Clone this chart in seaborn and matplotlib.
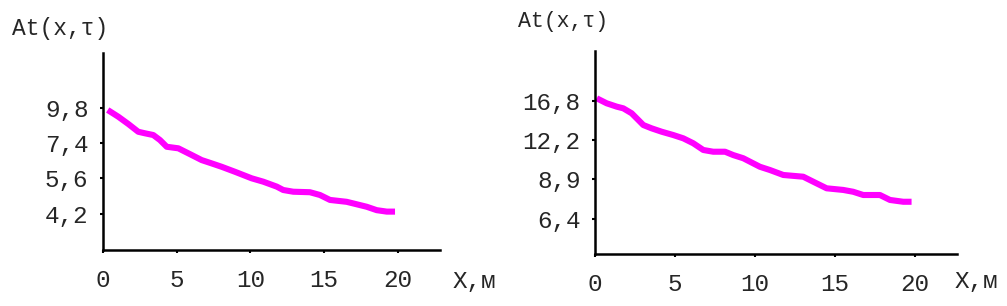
import matplotlib
matplotlib.use("Agg")
import matplotlib.pyplot as plt
import seaborn as sns
from matplotlib.ticker import NullLocator

# ---- data ----
x_left = [0.32, 1.04, 1.72, 2.39, 2.85, 3.41, 3.86, 4.32, 5.11, 6.01, 6.69, 7.37, 8.05, 8.95,
          10.08, 10.87, 11.78, 12.22, 12.90, 14.03, 14.71, 15.39, 16.52, 16.97, 17.88, 18.56,
          19.24, 19.80]
y_left = [9.66, 9.15, 8.63, 8.11, 8.01, 7.90, 7.59, 7.19, 7.10, 6.73, 6.46, 6.29, 6.12, 5.88,
          5.58, 5.43, 5.22, 5.08, 5.01, 4.99, 4.88, 4.69, 4.62, 4.56, 4.44, 4.32, 4.27, 4.27]

x_right = [0.11, 0.73, 1.36, 1.77, 2.29, 2.71, 3.02, 3.54, 4.17, 4.89, 5.52, 6.14, 6.77, 7.39,
           8.13, 8.64, 9.27, 9.89, 10.31, 10.94, 11.77, 13.02, 13.64, 14.48, 15.52, 16.14,
           16.77, 17.81, 18.44, 19.27, 19.79]
y_right = [17.21, 16.52, 16.07, 15.85, 15.22, 14.40, 13.82, 13.45, 13.08, 12.73, 12.39, 11.90,
           11.26, 11.10, 11.10, 10.80, 10.52, 10.09, 9.81, 9.55, 9.17, 9.04, 8.68, 8.22, 8.11,
           7.99, 7.78, 7.78, 7.47, 7.36, 7.36]

x_ticks = [0, 5, 10, 15, 20]
x_tick_labels = ["0", "5", "10", "15", "20"]
y_ticks_left = [9.8, 7.4, 5.6, 4.2]
y_tick_labels_left = ["9,8", "7,4", "5,6", "4,2"]
y_ticks_right = [16.8, 12.2, 8.9, 6.4]
y_tick_labels_right = ["16,8", "12,2", "8,9", "6,4"]
y_title = "At(x,τ)"
x_title = "X,м"

sns.set_style("white")
plt.rcParams['font.family'] = ['Liberation Mono', 'DejaVu Sans Mono']

W, H = 1007, 306
fig = plt.figure(figsize=(W / 100, H / 100), dpi=100)


def px_axes(x0, x1, ytop, ybot):
    return fig.add_axes([x0 / W, (H - ybot) / H, (x1 - x0) / W, (ybot - ytop) / H])


ax1 = px_axes(103, 440, 53, 250)
ax2 = px_axes(595, 957, 51, 254)

panels = [
    (ax1, x_left, y_left, y_ticks_left, y_tick_labels_left, (3.137, 15.27), 22.85),
    (ax2, x_right, y_right, y_ticks_right, y_tick_labels_right, (4.793, 25.38), 22.63),
]

FS = 17.5
FW = "normal"

for ax, xs, ys, yt, ytl, ylim, xmax in panels:
    sns.lineplot(x=xs, y=ys, ax=ax, color="#ff00ff", linewidth=4.4, sort=False)
    for ln in ax.get_lines():
        ln.set_solid_capstyle("butt")
    ax.set_yscale("log")
    ax.set_ylim(*ylim)
    ax.set_xlim(0, xmax)
    ax.set_yticks(yt)
    ax.set_yticklabels(ytl, fontweight=FW)
    ax.yaxis.set_minor_locator(NullLocator())
    ax.set_xticks(x_ticks)
    ax.set_xticklabels(x_tick_labels, fontweight=FW)
    for s in ["top", "right"]:
        ax.spines[s].set_visible(False)
    for s in ["left", "bottom"]:
        ax.spines[s].set_color("black")
        ax.spines[s].set_linewidth(1.8)
    ax.tick_params(axis="y", direction="out", length=2.5, width=1.5, color="black",
                   pad=8, labelsize=FS, left=True)
    ax.tick_params(axis="x", direction="out", length=2.5, width=1.5, color="black",
                   pad=11, labelsize=FS, bottom=True)
    ax.set_xlabel("")
    ax.set_ylabel("")
    ax.grid(False)
    ax.set_facecolor("white")

# axis titles
fig.text(12 / W, 1 - 28 / H, y_title, ha="left", va="center", fontsize=16.5, fontweight=FW)
fig.text(518 / W, 1 - 22 / H, y_title, ha="left", va="center", fontsize=15.5, fontweight=FW)
fig.text(453 / W, 1 - 281 / H, x_title, ha="left", va="center", fontsize=FS, fontweight=FW)
fig.text(955 / W, 1 - 281 / H, x_title, ha="left", va="center", fontsize=FS, fontweight=FW)

fig.savefig("out.png", dpi=100, facecolor="white")
